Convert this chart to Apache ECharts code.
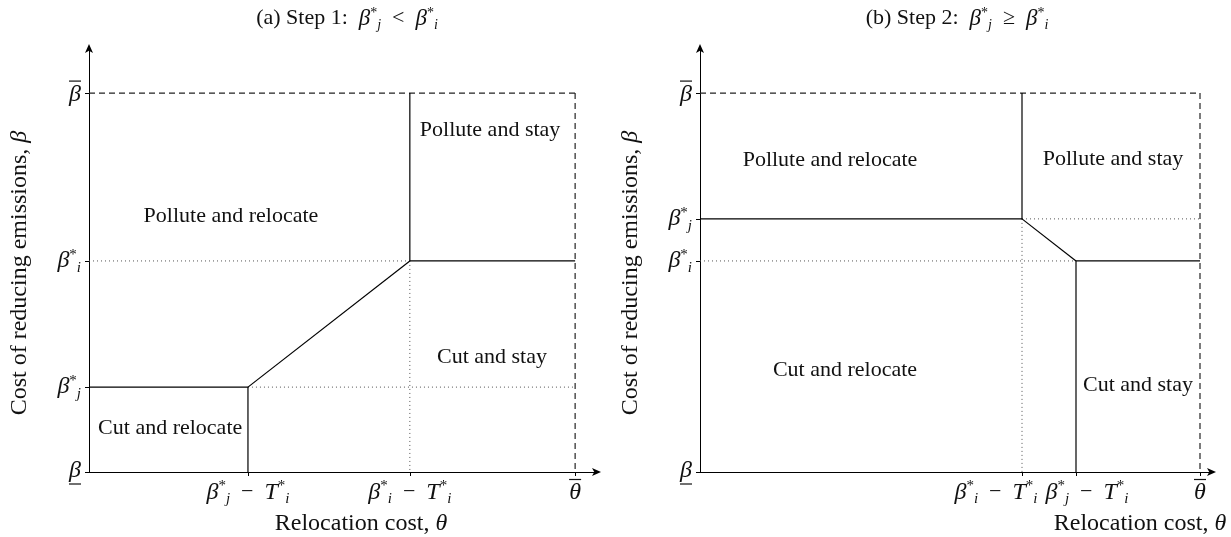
<!DOCTYPE html>
<html><head><meta charset="utf-8">
<script src="https://cdn.jsdelivr.net/npm/echarts@6/dist/echarts.min.js"></script>
<style>html,body{margin:0;padding:0;background:#fff}#c{width:1231px;height:537px}</style>
</head><body><div id="c"></div>
<script>
const FONT = 'Liberation Serif';

// ---------- Panel (a): Step 1, beta_j* < beta_i* ----------
const aXTicks = [3.27, 6.6, 10];              // beta_j*-T_i*, beta_i*-T_i*, theta-bar
const aXTickLabels = [
  '{it|β}{sup|*}{sub|j}{n|  −  }{it|T}{sup|*}{sub|i}',
  '{it|β}{sup|*}{sub|i}{n|  −  }{it|T}{sup|*}{sub|i}',
  '{bar| }\n{it|θ}'
];
const aYTicks = [0, 2.24, 5.57, 10];          // beta-under, beta_j*, beta_i*, beta-bar
const aYTickLabels = ['{it|β}\n{bar| }', '{it|β}{sup|*}{sub|j}', '{it|β}{sup|*}{sub|i}', '{bar| }\n{it|β}'];
const aAxisMax = [10.45, 11.19];
const aRegions = ['Pollute and relocate', 'Pollute and stay', 'Cut and stay', 'Cut and relocate'];
const aRegionAt = [[2.92, 6.75], [8.25, 9.02], [8.29, 3.03], [1.67, 1.16]];

// ---------- Panel (b): Step 2, beta_j* >= beta_i* ----------
const bXTicks = [6.44, 7.52, 10];             // beta_i*-T_i*, beta_j*-T_i*, theta-bar
const bXTickLabels = [
  '{it|β}{sup|*}{sub|i}{n|  −  }{it|T}{sup|*}{sub|i}{spL| }',
  '{spR| }{it|β}{sup|*}{sub|j}{n|  −  }{it|T}{sup|*}{sub|i}',
  '{bar| }\n{it|θ}'
];
const bYTicks = [0, 5.57, 6.68, 10];          // beta-under, beta_i*, beta_j*, beta-bar
const bYTickLabels = ['{it|β}\n{bar| }', '{it|β}{sup|*}{sub|i}', '{it|β}{sup|*}{sub|j}', '{bar| }\n{it|β}'];
const bAxisMax = [10.24, 11.19];
const bRegions = ['Pollute and relocate', 'Pollute and stay', 'Cut and relocate', 'Cut and stay'];
const bRegionAt = [[2.6, 8.23], [8.26, 8.26], [2.9, 2.69], [8.76, 2.30]];

const INK = '#111';
const mathRich = {
  it: {fontFamily: FONT, fontStyle: 'italic', fontSize: 24, color: INK, lineHeight: 24},
  bar: {fontSize: 1, width: 12, height: 1.2, lineHeight: 3, backgroundColor: INK, color: 'rgba(0,0,0,0)'},
  n: {fontFamily: FONT, fontSize: 22, color: INK},
  sup: {fontFamily: FONT, fontSize: 15, color: INK, padding: [0, 0, 12, 0]},
  sub: {fontFamily: FONT, fontStyle: 'italic', fontSize: 15, color: INK, padding: [14, 0, 0, 0]},
  spL: {fontSize: 1, width: 52, color: 'rgba(0,0,0,0)'},
  spR: {fontSize: 1, width: 22, color: 'rgba(0,0,0,0)'}
};

const SOLID = {color: '#000', width: 1.2, type: 'solid'};
const DOT = {color: '#555', width: 1, type: [1, 3]};
const DASH = {color: '#222', width: 1.2, type: [6, 4]};

function seg(idx, p, q, style) {
  return {type: 'line', xAxisIndex: idx, yAxisIndex: idx, data: [p, q], symbol: 'none',
    lineStyle: style, silent: true, animation: false, z: style === SOLID ? 4 : 3};
}

// Panel (a) segments derived from tick values
const [aXj, aXi, aTh] = aXTicks;
const [aB0, aBj, aBi, aBb] = aYTicks;
const aSegs = [
  seg(0, [0, aBb], [aTh, aBb], DASH),
  seg(0, [aTh, aBb], [aTh, aB0], DASH),
  seg(0, [0, aBi], [aXi, aBi], DOT),
  seg(0, [aXi, aBi], [aXi, aB0], DOT),
  seg(0, [aXj, aBj], [aTh, aBj], DOT),
  seg(0, [aXi, aBb], [aXi, aBi], SOLID),
  seg(0, [aXi, aBi], [aTh, aBi], SOLID),
  seg(0, [aXj, aBj], [aXi, aBi], SOLID),
  seg(0, [0, aBj], [aXj, aBj], SOLID),
  seg(0, [aXj, aBj], [aXj, aB0], SOLID)
];
// Panel (b) segments
const [bXi, bXj, bTh] = bXTicks;
const [bB0, bBi, bBj, bBb] = bYTicks;
const bSegs = [
  seg(1, [0, bBb], [bTh, bBb], DASH),
  seg(1, [bTh, bBb], [bTh, bB0], DASH),
  seg(1, [bXi, bBj], [bTh, bBj], DOT),
  seg(1, [0, bBi], [bXj, bBi], DOT),
  seg(1, [bXi, bBj], [bXi, bB0], DOT),
  seg(1, [bXi, bBb], [bXi, bBj], SOLID),
  seg(1, [0, bBj], [bXi, bBj], SOLID),
  seg(1, [bXi, bBj], [bXj, bBi], SOLID),
  seg(1, [bXj, bBi], [bTh, bBi], SOLID),
  seg(1, [bXj, bBi], [bXj, bB0], SOLID)
];

function regionSeries(idx, names, at) {
  return {type: 'scatter', xAxisIndex: idx, yAxisIndex: idx, symbolSize: 0, silent: true, animation: false,
    itemStyle: {opacity: 1},
    data: names.map((n, i) => ({value: at[i], name: n})),
    label: {show: true, position: 'inside', formatter: '{b}', fontFamily: FONT, fontSize: 22, color: INK, opacity: 1, textBorderWidth: 0}};
}

const nameRich = {
  n: {fontFamily: FONT, fontSize: 24, color: INK},
  it: {fontFamily: FONT, fontStyle: 'italic', fontSize: 24, color: INK}
};

// ticks: all tick positions of the axis; labelAt: which of them get a label on this axis
function xAx(idx, ticks, labels, labelAt, max, namePad, showLine) {
  const ax = {
    type: 'value', gridIndex: idx, min: 0, max: max, position: 'bottom',
    axisLine: {show: showLine, onZero: false, symbol: ['none', 'arrow'], symbolSize: [6, 9], symbolOffset: [0, 4], lineStyle: {color: '#000', width: 1}},
    axisTick: {show: showLine, customValues: ticks, length: 4, lineStyle: {color: '#000'}},
    axisLabel: {show: true, customValues: labelAt, margin: 6, hideOverlap: false, showMinLabel: true, showMaxLabel: true,
      formatter: v => labels[ticks.indexOf(v)], rich: mathRich},
    splitLine: {show: false}
  };
  if (namePad) {
    ax.name = '{n|Relocation cost, }{it|θ}';
    ax.nameLocation = 'middle';
    ax.nameGap = 36;
    ax.nameTextStyle = {padding: namePad, rich: nameRich};
  }
  return ax;
}
function yAx(idx, ticks, labels, max) {
  return {
    type: 'value', gridIndex: idx, min: 0, max: max,
    axisLine: {show: true, onZero: false, symbol: ['none', 'arrow'], symbolSize: [6, 9], symbolOffset: [0, 4], lineStyle: {color: '#000', width: 1}},
    axisTick: {show: true, customValues: ticks, length: 4, lineStyle: {color: '#000'}},
    axisLabel: {show: true, customValues: ticks, margin: 8, hideOverlap: false, showMinLabel: true, showMaxLabel: true,
      formatter: v => labels[ticks.indexOf(v)], rich: mathRich},
    splitLine: {show: false},
    name: '{n|Cost of reducing emissions, }{it|β}',
    nameLocation: 'middle', nameGap: 57, nameRotate: 90,
    nameTextStyle: {padding: [0, 26, 0, 0], rich: nameRich}
  };
}

const titleRich = {
  n: {fontFamily: FONT, fontWeight: 'normal', fontSize: 22, color: INK},
  it: {fontFamily: FONT, fontWeight: 'normal', fontStyle: 'italic', fontSize: 23, color: INK},
  sup: {fontFamily: FONT, fontWeight: 'normal', fontSize: 14, color: INK, padding: [0, 0, 11, 0]},
  sub: {fontFamily: FONT, fontWeight: 'normal', fontStyle: 'italic', fontSize: 14, color: INK, padding: [13, 0, 0, 0]}
};

const option = {
  backgroundColor: '#fff',
  animation: false,
  title: [
    {text: '{n|(a) Step 1:  }{it|β}{sup|*}{sub|j}{n|  <  }{it|β}{sup|*}{sub|i}', left: 342, top: 0, textAlign: 'center', textStyle: {fontWeight: 'normal', rich: titleRich}},
    {text: '{n|(b) Step 2:  }{it|β}{sup|*}{sub|j}{n|  ≥  }{it|β}{sup|*}{sub|i}', left: 952, top: 0, textAlign: 'center', textStyle: {fontWeight: 'normal', rich: titleRich}}
  ],
  grid: [
    {left: 89, top: 48, width: 508, height: 424, containLabel: false, outerBoundsMode: 'none'},
    {left: 700, top: 48, width: 512, height: 424, containLabel: false, outerBoundsMode: 'none'}
  ],
  xAxis: [
    xAx(0, aXTicks, aXTickLabels, aXTicks, aAxisMax[0], [0, 0, 0, 36], true),
    xAx(1, bXTicks, bXTickLabels, [bXTicks[0], bXTicks[2]], bAxisMax[0], [2, 0, 0, 368], true),
    xAx(1, bXTicks, bXTickLabels, [bXTicks[1]], bAxisMax[0], null, false)
  ],
  yAxis: [
    yAx(0, aYTicks, aYTickLabels, aAxisMax[1]),
    yAx(1, bYTicks, bYTickLabels, bAxisMax[1])
  ],
  series: [...aSegs, ...bSegs, regionSeries(0, aRegions, aRegionAt), regionSeries(1, bRegions, bRegionAt)]
};

const chart = echarts.init(document.getElementById('c'), null, {renderer: 'canvas'});
chart.setOption(option);
</script></body></html>
